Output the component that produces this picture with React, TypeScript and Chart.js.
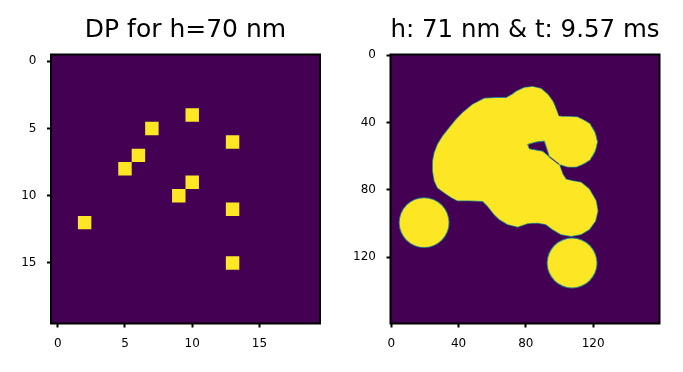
import { useEffect, useRef } from "react";
import { Chart, registerables } from "chart.js";

Chart.register(...registerables);

// ---------- data ----------
const leftTitle = "DP for h=70 nm";
const rightTitle = "h: 71 nm & t: 9.57 ms";

// left panel: 20 x 20 grid, deposition points (value 1) at (col, row)
const gridMin = -0.5;
const gridMax = 19.5;
const dpCols = [10, 7, 13, 6, 5, 10, 9, 13, 2, 13];
const dpRows = [4, 5, 6, 7, 8, 9, 10, 11, 12, 15];
const leftTicks = [0, 5, 10, 15];

// right panel: 160 x 160 field
const fieldMin = -0.5;
const fieldMax = 159.5;
const rightTicks = [0, 40, 80, 120];

// droplets (one per DP), centre and radius in field pixels
const dropX = [83.5, 59.5, 107.5, 51.5, 43.5, 83.5, 75.5, 107.5, 19.5, 107.5];
const dropY = [35.5, 43.5, 51.5, 59.5, 67.5, 75.5, 83.5, 91.5, 99.5, 123.5];
const dropR = 15;

// outline of the merged film
const blobX = [
  55.4, 62, 68.3, 72, 74.4, 79.1, 84.1, 89, 93, 95.9, 98, 99.5, 101.7, 105.9, 110.8,
  118.1, 122.5, 118.1, 110.1, 104.9, 101.2, 99.7, 101.9, 103.9, 107.8, 112.8, 117.7,
  121.7, 122.7, 121.3, 117.7, 112.8, 106.9, 100.9, 95.9, 92, 87, 81.1, 75.2, 69.2,
  64.3, 61.3, 57.3, 54.4, 46.5, 39.3, 35.8, 31.6, 27.6, 25.7, 24.7, 24.7, 25.7, 27.6,
  30.6, 34.6, 38.6, 42.5, 48.4,
];
const blobY = [
  25.7, 25.3, 25.3, 23.3, 21.5, 19.3, 18.7, 19.9, 23.3, 27.3, 32.2, 36.2, 36.6, 36.6, 36.8,
  40.9, 51.5, 62.1, 66.3, 66.3, 65.1, 64.8, 70.8, 73.8, 74.8, 75.7, 79.7,
  86.7, 92.6, 98.5, 103.5, 106.4, 107.5, 106.4, 103.5, 100.5, 99.5, 99.9, 101.9, 100.5,
  97.5, 94.6, 89.6, 86.7, 86.3, 86.3, 84.5, 81.7, 78.7, 74.8, 68.9, 62.9, 57.9, 53,
  48.1, 43.1, 38.2, 34.2, 29.3,
];

// small dry hole inside the film and the crack leading out of it
const holeX = [81.1, 86.1, 91, 94, 90, 82.1];
const holeY = [53, 51.6, 51, 60.3, 57, 55.6];
const crackX = [94, 99.7];
const crackY = [60.3, 64.8];

// ---------- styles ----------
const LOW = "#440154";
const HIGH = "#fde725";
const EDGE = "#26868e";
const CRACK = "#3b528b";
const FONT = "'DejaVu Sans', sans-serif";

const pts = (xs: number[], ys: number[]) => xs.map((x, i) => ({ x, y: ys[i] }));
const closed = (xs: number[], ys: number[]) => {
  const p = pts(xs, ys);
  p.push({ ...p[0] });
  return p;
};

const pxPerUnit = (chart: any) => {
  const s = chart.scales.x;
  return Math.abs(s.getPixelForValue(1) - s.getPixelForValue(0));
};

const framePlugin = {
  id: "imageFrame",
  beforeDatasetsDraw(chart: any) {
    const { ctx, chartArea: a } = chart;
    ctx.save();
    ctx.fillStyle = LOW;
    ctx.fillRect(a.left, a.top, a.right - a.left, a.bottom - a.top);
    ctx.restore();
  },
  afterDraw(chart: any) {
    const { ctx, chartArea: a } = chart;
    ctx.save();
    ctx.strokeStyle = "#000";
    ctx.lineWidth = 2;
    ctx.strokeRect(a.left, a.top, a.right - a.left, a.bottom - a.top);
    ctx.restore();
  },
};

function axis(min: number, max: number, ticks: number[], isX: boolean, size: number) {
  return {
    type: "linear",
    min,
    max,
    reverse: !isX,
    afterBuildTicks: (s: any) => {
      s.ticks = ticks.map((v) => ({ value: v }));
    },
    afterFit: (s: any) => {
      if (isX) s.height = size;
      else s.width = size;
    },
    grid: {
      display: true,
      drawOnChartArea: false,
      drawTicks: true,
      tickLength: 4,
      tickWidth: 2,
      tickColor: "#000",
      color: "#000",
    },
    border: { display: false },
    ticks: {
      color: "#000",
      font: { family: FONT, size: 12 },
      padding: isX ? 9 : 10.5,
      maxRotation: 0,
      autoSkip: false,
    },
  };
}

function baseOptions(title: string, rightPad: number, yWidth: number, min: number, max: number, ticks: number[]) {
  return {
    responsive: false,
    animation: false,
    events: [],
    layout: { padding: { left: 0, right: rightPad, top: 0, bottom: 0 } },
    plugins: {
      legend: { display: false },
      tooltip: { enabled: false },
      title: {
        display: true,
        text: title,
        color: "#000",
        fullSize: false,
        font: { family: FONT, size: 25, weight: "normal" },
        padding: { top: 15.5, bottom: 9 },
      },
    },
    scales: {
      x: axis(min, max, ticks, true, 48.5),
      y: axis(min, max, ticks, false, yWidth),
    },
  };
}

export default function App() {
  const leftRef = useRef<HTMLCanvasElement>(null);
  const rightRef = useRef<HTMLCanvasElement>(null);

  useEffect(() => {
    const left = new Chart(leftRef.current as HTMLCanvasElement, {
      type: "scatter",
      data: {
        datasets: [
          {
            data: pts(dpCols, dpRows),
            pointStyle: "rect",
            pointRadius: (c: any) => pxPerUnit(c.chart) / Math.SQRT2,
            pointHoverRadius: (c: any) => pxPerUnit(c.chart) / Math.SQRT2,
            backgroundColor: HIGH,
            borderWidth: 0,
          },
        ],
      },
      options: baseOptions(leftTitle, 21, 51, gridMin, gridMax, leftTicks) as any,
      plugins: [framePlugin],
    });

    const dropRadius = (extra: number) => (c: any) => dropR * pxPerUnit(c.chart) + extra;

    const right = new Chart(rightRef.current as HTMLCanvasElement, {
      type: "scatter",
      data: {
        datasets: [
          {
            data: closed(holeX, holeY),
            showLine: true,
            fill: "shape",
            backgroundColor: LOW,
            borderColor: EDGE,
            borderWidth: 1,
            pointRadius: 0,
            pointHoverRadius: 0,
            order: 0,
          },
          {
            data: pts(crackX, crackY),
            showLine: true,
            fill: false,
            borderColor: CRACK,
            borderWidth: 1.5,
            pointRadius: 0,
            pointHoverRadius: 0,
            order: 0,
          },
          {
            data: pts(dropX, dropY),
            pointStyle: "circle",
            pointRadius: dropRadius(-0.8),
            pointHoverRadius: dropRadius(-0.8),
            backgroundColor: HIGH,
            borderWidth: 0,
            order: 1,
          },
          {
            data: closed(blobX, blobY),
            showLine: true,
            fill: "shape",
            backgroundColor: HIGH,
            borderColor: "rgba(0,0,0,0)",
            borderWidth: 1,
            pointRadius: 0,
            pointHoverRadius: 0,
            order: 2,
          },
          {
            data: pts(dropX, dropY),
            pointStyle: "circle",
            pointRadius: dropRadius(0.2),
            pointHoverRadius: dropRadius(0.2),
            backgroundColor: EDGE,
            borderWidth: 0,
            order: 3,
          },
          {
            data: closed(blobX, blobY),
            showLine: true,
            fill: "shape",
            backgroundColor: EDGE,
            borderColor: EDGE,
            borderWidth: 1.6,
            pointRadius: 0,
            pointHoverRadius: 0,
            order: 4,
          },
        ],
      },
      options: baseOptions(rightTitle, 23.5, 49.5, fieldMin, fieldMax, rightTicks) as any,
      plugins: [framePlugin],
    });

    return () => {
      left.destroy();
      right.destroy();
    };
  }, []);

  return (
    <div style={{ position: "fixed", left: 0, top: 0, width: 683, height: 372, background: "#fff" }}>
      <canvas
        ref={leftRef}
        width={341}
        height={372}
        style={{ position: "absolute", left: 0, top: 0, width: 341, height: 372 }}
      />
      <canvas
        ref={rightRef}
        width={342}
        height={372}
        style={{ position: "absolute", left: 341, top: 0, width: 342, height: 372 }}
      />
    </div>
  );
}
